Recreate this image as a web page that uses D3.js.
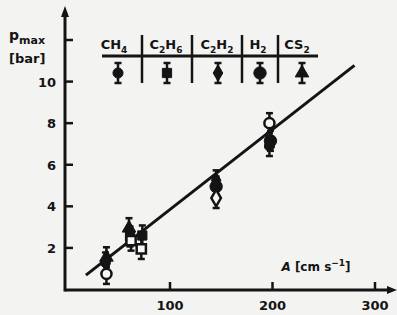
<!DOCTYPE html>
<html>
<head>
<meta charset="utf-8">
<script src="https://cdn.jsdelivr.net/npm/d3@7"></script>
<style>
  body { margin: 0; background: #f3f3f1; }
  svg { display: block; font-family: "DejaVu Sans", sans-serif; font-weight: bold; }
</style>
</head>
<body>
<div class="svg-container"></div>
<script>
// data
const gases = ['CH4', 'C2H6', 'C2H2', 'H2', 'CS2'];
const gasLabels = [['CH', '4'], ['C', '2', 'H', '6'], ['C', '2', 'H', '2'], ['H', '2'], ['CS', '2']];
const gasSymbols = ['circle', 'square', 'diamond', 'bigcircle', 'triangle'];

const pointA   = [38, 37, 38, 60, 61, 62, 73, 72, 145, 145, 145, 197, 198, 197];
const pointP   = [1.55, 1.3, 0.75, 2.95, 2.55, 2.35, 2.6, 1.95, 5.25, 4.95, 4.4, 8.0, 7.15, 6.9];
const pointGas = ['CS2', 'CH4', 'CH4', 'CS2', 'C2H6', 'C2H6', 'C2H6', 'C2H6', 'C2H2', 'H2', 'C2H2', 'CH4', 'H2', 'CH4'];
const pointOpen = [false, false, true, false, false, true, false, true, false, false, true, true, false, false];

const fitSlope = 0.0385;          // p_max = slope * A
const fitRange = [18, 280];

const xTicks = [100, 200, 300];
const yTicks = [2, 4, 6, 8, 10, 12];
const yLabels = [2, 4, 6, 8, 10];

const ink = '#141414';
const width = 397, height = 315;

const svg = d3.select('.svg-container')
  .append('svg')
  .attr('width', width)
  .attr('height', height);

const x = d3.scaleLinear().domain([0, 300]).range([67.5, 375]);
const y = d3.scaleLinear().domain([0, 12]).range([289.5, 40]);

// axes
const axX0 = 65, axY0 = 290;
svg.append('line').attr('x1', axX0).attr('x2', 390).attr('y1', axY0).attr('y2', axY0)
  .attr('stroke', ink).attr('stroke-width', 3);
svg.append('path').attr('d', `M397,${axY0} L387,${axY0 - 4} L387,${axY0 + 4} Z`).attr('fill', ink);
svg.append('line').attr('x1', axX0).attr('x2', axX0).attr('y1', axY0 + 1.5).attr('y2', 14)
  .attr('stroke', ink).attr('stroke-width', 3);
svg.append('path').attr('d', `M${axX0},6 L${axX0 - 4},17 L${axX0 + 4},17 Z`).attr('fill', ink);

// ticks
svg.append('g').selectAll('line').data(yTicks).enter().append('line')
  .attr('x1', axX0).attr('x2', axX0 + 8)
  .attr('y1', d => y(d)).attr('y2', d => y(d))
  .attr('stroke', ink).attr('stroke-width', 2.5);
svg.append('g').selectAll('text').data(yLabels).enter().append('text')
  .attr('x', 56).attr('y', d => y(d) + 5)
  .attr('text-anchor', 'end').attr('font-size', 13).attr('fill', ink)
  .text(d => d);

svg.append('g').selectAll('line').data(xTicks).enter().append('line')
  .attr('x1', d => x(d)).attr('x2', d => x(d))
  .attr('y1', axY0).attr('y2', axY0 - 8)
  .attr('stroke', ink).attr('stroke-width', 2.5);
svg.append('g').selectAll('text').data(xTicks).enter().append('text')
  .attr('x', d => x(d)).attr('y', 310)
  .attr('text-anchor', 'middle').attr('font-size', 13).attr('fill', ink)
  .text(d => d);

// axis titles
const yt = svg.append('text').attr('x', 9).attr('y', 40).attr('fill', ink).attr('font-size', 14);
yt.append('tspan').text('p');
yt.append('tspan').attr('font-size', 11).attr('dy', 4).text('max');
svg.append('text').attr('x', 9).attr('y', 63).attr('fill', ink).attr('font-size', 13).text('[bar]');

const xt = svg.append('text').attr('x', 316).attr('y', 271).attr('fill', ink)
  .attr('font-size', 12).attr('text-anchor', 'middle');
xt.append('tspan').attr('font-style', 'italic').text('A ');
xt.append('tspan').text('[cm s');
xt.append('tspan').attr('font-size', 9).attr('dy', -5).text('−1');
xt.append('tspan').attr('dy', 5).text(']');

// regression line
svg.append('line')
  .attr('x1', x(fitRange[0])).attr('y1', y(fitSlope * fitRange[0]))
  .attr('x2', x(fitRange[1])).attr('y2', y(fitSlope * fitRange[1]))
  .attr('stroke', ink).attr('stroke-width', 3);

// marker helper
function symbolPath(kind) {
  const types = { circle: [d3.symbolCircle, 80], square: [d3.symbolSquare, 85], diamond: [d3.symbolDiamond, 80],
                  bigcircle: [d3.symbolCircle, 120], triangle: [d3.symbolTriangle, 80] };
  const t = types[kind];
  return d3.symbol().type(t[0]).size(t[1])();
}

function drawMarker(g, kind, open) {
  // error bar with caps
  g.append('line').attr('x1', 0).attr('x2', 0).attr('y1', -10).attr('y2', 10)
    .attr('stroke', ink).attr('stroke-width', 2.5);
  g.append('line').attr('x1', -3.5).attr('x2', 3.5).attr('y1', -10).attr('y2', -10)
    .attr('stroke', ink).attr('stroke-width', 2.5);
  g.append('line').attr('x1', -3.5).attr('x2', 3.5).attr('y1', 10).attr('y2', 10)
    .attr('stroke', ink).attr('stroke-width', 2.5);
  g.append('path').attr('d', symbolPath(kind))
    .attr('fill', open ? '#f7f7f5' : ink)
    .attr('stroke', ink).attr('stroke-width', open ? 2.5 : 1);
}

// data points
const points = pointA.map((a, i) => ({ a: a, p: pointP[i], gas: pointGas[i], open: pointOpen[i] }));
svg.append('g').selectAll('g').data(points).enter().append('g')
  .attr('transform', d => `translate(${x(d.a)},${y(d.p)})`)
  .each(function(d) {
    drawMarker(d3.select(this), gasSymbols[gases.indexOf(d.gas)], d.open);
  });

// legend table
const legX = [102, 142, 192, 242, 278, 318];
const legLabelX = [114, 166, 217, 258, 297];
const legSymX = [118, 167, 218, 260, 302];
const legend = svg.append('g');
legend.append('line').attr('x1', legX[0]).attr('x2', legX[5]).attr('y1', 56).attr('y2', 56)
  .attr('stroke', ink).attr('stroke-width', 3);
legend.selectAll('.sep').data(legX.slice(1, 5)).enter().append('line')
  .attr('class', 'sep')
  .attr('x1', d => d).attr('x2', d => d).attr('y1', 35).attr('y2', 83)
  .attr('stroke', ink).attr('stroke-width', 2.5);

gases.forEach((g, i) => {
  const lbl = gasLabels[i];
  const t = legend.append('text').attr('x', legLabelX[i]).attr('y', 49)
    .attr('text-anchor', 'middle').attr('font-size', 13).attr('fill', ink);
  for (let k = 0; k < lbl.length; k += 2) {
    t.append('tspan').attr('dy', k === 0 ? 0 : -4).text(lbl[k]);
    if (lbl[k + 1]) t.append('tspan').attr('font-size', 9).attr('dy', 4).text(lbl[k + 1]);
  }
  const m = legend.append('g').attr('transform', `translate(${legSymX[i]},73)`);
  drawMarker(m, gasSymbols[i], false);
});
</script>
</body>
</html>
